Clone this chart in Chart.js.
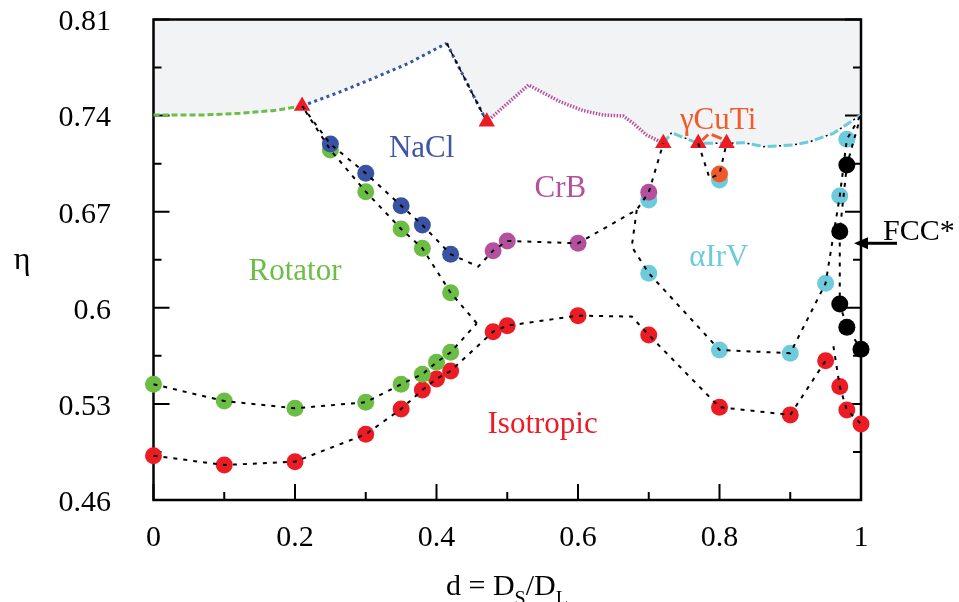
<!DOCTYPE html>
<html>
<head>
<meta charset="utf-8">
<script src="https://cdn.jsdelivr.net/npm/chart.js@4.4.1/dist/chart.umd.min.js"></script>
<style>html,body{margin:0;padding:0;background:#fff;}canvas{display:block;}</style>
</head>
<body>
<canvas id="c" width="959" height="602" style="width:959px;height:602px"></canvas>
<script>
// ---------- axis ticks ----------
const xTickValues = [0, 0.2, 0.4, 0.6, 0.8, 1];
const xTickLabels = ['0', '0.2', '0.4', '0.6', '0.8', '1'];
const xMinorTicks = [0.1, 0.3, 0.5, 0.7, 0.9];
const yTickValues = [0.46, 0.53, 0.6, 0.67, 0.74, 0.81];
const yTickLabels = ['0.46', '0.53', '0.6', '0.67', '0.74', '0.81'];
const yMinorTicks = [0.495, 0.565, 0.635, 0.705, 0.775];

// ---------- close-packing boundary (top of ordered phases) ----------
const rotBoundD = [0, 0.075, 0.122, 0.169, 0.21];
const rotBoundEta = [0.7405, 0.7405, 0.7417, 0.7436, 0.747];
const naclBoundD = [0.21, 0.26, 0.31, 0.36, 0.4144];
const naclBoundEta = [0.747, 0.7565, 0.767, 0.778, 0.7927];
const dropD = [0.4144, 0.471];
const dropEta = [0.7927, 0.7356];
const crbBoundD = [0.471, 0.53, 0.575, 0.6075, 0.636, 0.664, 0.678, 0.697, 0.7206];
const crbBoundEta = [0.7356, 0.7623, 0.750, 0.7436, 0.7404, 0.7397, 0.7344, 0.7259, 0.7198];
const irvBoundD = [0.7206, 0.7324, 0.744, 0.770, 0.810, 0.834, 0.862, 0.904, 0.928, 0.961, 1.0];
const irvBoundEta = [0.7198, 0.7276, 0.7251, 0.7198, 0.7198, 0.7203, 0.7174, 0.7186, 0.721, 0.7271, 0.7405];

// ---------- simulation points ----------
const greenD = [0, 0.1, 0.2, 0.3, 0.35, 0.38, 0.40, 0.42, 0.25, 0.30, 0.35, 0.38, 0.42];
const greenEta = [0.5443, 0.5321, 0.5268, 0.5312, 0.5443, 0.5516, 0.5603, 0.5676, 0.715, 0.6846, 0.6574, 0.6434, 0.611];
const blueD = [0.25, 0.30, 0.35, 0.38, 0.42];
const blueEta = [0.7193, 0.698, 0.6744, 0.6603, 0.639];
const magentaD = [0.48, 0.50, 0.60, 0.70];
const magentaEta = [0.6416, 0.6487, 0.647, 0.6841];
const cyanD = [0.70, 0.70, 0.80, 0.80, 0.90, 0.95, 0.97, 0.98];
const cyanEta = [0.6785, 0.6252, 0.6931, 0.5693, 0.5669, 0.6179, 0.6814, 0.7227];
const orangeD = [0.80];
const orangeEta = [0.6975];
const blackD = [0.98, 0.97, 0.97, 0.98, 1.0];
const blackEta = [0.704, 0.6555, 0.6028, 0.5858, 0.5698];
const redD = [0, 0.1, 0.2, 0.3, 0.35, 0.38, 0.40, 0.42, 0.48, 0.50, 0.60, 0.70, 0.80, 0.90, 0.95, 0.97, 0.98, 1.0];
const redEta = [0.4923, 0.4855, 0.4879, 0.5079, 0.5263, 0.5402, 0.5482, 0.554, 0.5826, 0.587, 0.5943, 0.5802, 0.5276, 0.522, 0.5615, 0.5426, 0.5256, 0.5154];
const triD = [0.21, 0.471, 0.7206, 0.770, 0.810];
const triEta = [0.747, 0.7356, 0.7198, 0.7198, 0.7198];

// ---------- phase boundary guide lines (black dashed) ----------
const l1D = [0, 0.1, 0.2, 0.3, 0.35, 0.38, 0.40, 0.42, 0.457];
const l1Eta = [0.5443, 0.5321, 0.5268, 0.5312, 0.5443, 0.5516, 0.5603, 0.5676, 0.5887];
const l2D = [0.457, 0.42, 0.38, 0.35, 0.30, 0.25, 0.21];
const l2Eta = [0.5887, 0.611, 0.6434, 0.6574, 0.6846, 0.715, 0.747];
const l3D = [0.21, 0.25, 0.30, 0.35, 0.38, 0.42, 0.459, 0.48, 0.50, 0.60, 0.683, 0.70, 0.7206];
const l3Eta = [0.747, 0.7193, 0.698, 0.6744, 0.6603, 0.639, 0.630, 0.6416, 0.6487, 0.647, 0.6713, 0.6841, 0.7198];
const l4D = [0.683, 0.676, 0.70, 0.80, 0.90, 0.95, 0.97, 0.98, 1.0];
const l4Eta = [0.6713, 0.6445, 0.6252, 0.5693, 0.5669, 0.6179, 0.6814, 0.7227, 0.7405];
const l5D = [0, 0.1, 0.2, 0.3, 0.35, 0.38, 0.40, 0.42, 0.48, 0.50, 0.60, 0.676, 0.70, 0.80, 0.90, 0.95];
const l5Eta = [0.4923, 0.4855, 0.4879, 0.5079, 0.5263, 0.5402, 0.5482, 0.554, 0.5826, 0.587, 0.5943, 0.5936, 0.5802, 0.5276, 0.522, 0.5615];
const l6D = [0.961, 0.97, 0.98, 1.0];
const l6Eta = [0.572, 0.5426, 0.5256, 0.5154];
const l7D = [1.0, 0.98, 0.97, 0.97, 0.98, 1.0];
const l7Eta = [0.7405, 0.704, 0.6555, 0.6028, 0.5858, 0.5698];
const l8D = [0.770, 0.786, 0.80, 0.81];
const l8Eta = [0.7198, 0.6943, 0.6975, 0.7198];
const gArrowLD = [0.784, 0.776];
const gArrowLEta = [0.7262, 0.7222];
const gArrowRD = [0.789, 0.803];
const gArrowREta = [0.7262, 0.7232];

// ---------- text annotations ----------
const phaseNames = ['NaCl', 'CrB', 'Rotator', 'Isotropic', '\u03B1IrV', '\u03B3CuTi'];
const phaseColors = ['#3d56a6', '#b4519e', '#6cbd45', '#ec1c24', '#6dcbdb', '#f15a29'];
const fccEta = 0.647;

const C = {green:'#6cbd45', blue:'#3853a4', magenta:'#b4519e', cyan:'#6dcbdb', red:'#ec1c24', orange:'#f05a28', black:'#000000'};
const FONT = "'Liberation Serif', 'Times New Roman', serif";

const pts = (d, e) => d.map((v, i) => ({x: v, y: e[i]}));
const line = (d, e, color, width, dash, order, offset) => ({
  data: pts(d, e), borderColor: color, borderWidth: width, borderDash: dash || [],
  borderDashOffset: offset || 0, pointRadius: 0, fill: false, tension: 0, order: order, clip: false
});
const marks = (d, e, color, order, style, r) => ({
  data: pts(d, e), showLine: false, pointRadius: r || 8.5, pointHoverRadius: r || 8.5,
  pointStyle: style || 'circle', pointBackgroundColor: color, pointBorderWidth: 0,
  pointBorderColor: color, order: order, clip: false
});

const fillD = [].concat(rotBoundD, naclBoundD.slice(1), dropD.slice(1), crbBoundD.slice(1), irvBoundD.slice(1));
const fillEta = [].concat(rotBoundEta, naclBoundEta.slice(1), dropEta.slice(1), crbBoundEta.slice(1), irvBoundEta.slice(1));

const datasets = [
  {data: pts(fillD, fillEta), fill: 'end', backgroundColor: '#f2f3f5', borderColor: 'rgba(0,0,0,0)', borderWidth: 0, pointRadius: 0, tension: 0, order: 20},
  line(rotBoundD, rotBoundEta, C.green, 3, [6, 3], 15),
  line(naclBoundD, naclBoundEta, C.blue, 3, [3, 3.5], 15),
  line(dropD, dropEta, C.blue, 3, [3, 3.5], 15),
  line(dropD, dropEta, '#000', 1.5, [5, 4], 14),
  line(crbBoundD, crbBoundEta, C.magenta, 3.5, [1.5, 1.5], 15),
  line(irvBoundD, irvBoundEta, C.cyan, 3, [9, 7], 15),
  line(irvBoundD, irvBoundEta, '#000', 1.5, [2, 14], 14, 4.5),
  marks(cyanD, cyanEta, C.cyan, 6),
  marks(greenD, greenEta, C.green, 5),
  marks(redD, redEta, C.red, 5),
  marks(blueD, blueEta, C.blue, 4),
  marks(magentaD, magentaEta, C.magenta, 4),
  marks(orangeD, orangeEta, C.orange, 3),
  marks(blackD, blackEta, C.black, 3),
  line(gArrowLD, gArrowLEta, C.orange, 3, [], 2),
  line(gArrowRD, gArrowREta, C.orange, 3, [], 2),
  marks(triD, triEta, C.red, 1, 'triangle', 9.5),
  line(l1D, l1Eta, '#000', 2, [4, 6], 0),
  line(l2D, l2Eta, '#000', 2, [4, 6], 0),
  line(l3D, l3Eta, '#000', 2, [4, 6], 0),
  line(l4D, l4Eta, '#000', 2, [4, 6], 0),
  line(l5D, l5Eta, '#000', 2, [4, 6], 0),
  line(l6D, l6Eta, '#000', 2, [4, 6], 0),
  line(l7D, l7Eta, '#000', 2, [4, 6], 0),
  line(l8D, l8Eta, '#000', 2, [4, 6], 0)
];

// text anchor positions (data coordinates of each label's centre / baseline)
const labelAnchors = [[0.379, 0.7101], [0.575, 0.6805], [0.2, 0.6203], [0.550, 0.5086], [0.799, 0.6305], [0.798, 0.7302]];

const decor = {
  id: 'decor',
  afterDatasetDraw(chart, args) {
    if (args.index !== 0) return;
    const {ctx, chartArea: a, scales: {x, y}} = chart;
    ctx.save();
    ctx.strokeStyle = '#000';
    ctx.lineWidth = 2.5;
    ctx.strokeRect(a.left, a.top, a.right - a.left, a.bottom - a.top);
    ctx.lineWidth = 2;
    ctx.beginPath();
    const xt = (v, len) => { const p = x.getPixelForValue(v); ctx.moveTo(p, a.bottom); ctx.lineTo(p, a.bottom - len); };
    const yt = (v, len) => { const p = y.getPixelForValue(v); ctx.moveTo(a.left, p); ctx.lineTo(a.left + len, p); ctx.moveTo(a.right, p); ctx.lineTo(a.right - len, p); };
    xTickValues.forEach(v => xt(v, 16));
    xMinorTicks.forEach(v => xt(v, 8));
    yTickValues.forEach(v => yt(v, 16));
    yMinorTicks.forEach(v => yt(v, 8));
    ctx.stroke();
    ctx.restore();
  },
  afterDatasetsDraw(chart) {
    const {ctx, chartArea: a, scales: {x, y}} = chart;
    ctx.save();
    ctx.textBaseline = 'alphabetic';
    ctx.font = '31px ' + FONT;
    ctx.textAlign = 'center';
    phaseNames.forEach((t, i) => {
      ctx.fillStyle = phaseColors[i];
      ctx.fillText(t, x.getPixelForValue(labelAnchors[i][0]), y.getPixelForValue(labelAnchors[i][1]));
    });
    // FCC* arrow
    const fy = y.getPixelForValue(fccEta);
    ctx.strokeStyle = '#000'; ctx.fillStyle = '#000'; ctx.lineWidth = 3;
    ctx.beginPath(); ctx.moveTo(a.right + 36, fy); ctx.lineTo(a.right + 4, fy); ctx.stroke();
    ctx.beginPath(); ctx.moveTo(a.right - 7, fy); ctx.lineTo(a.right + 7, fy - 6); ctx.lineTo(a.right + 7, fy + 6); ctx.closePath(); ctx.fill();
    ctx.font = '30px ' + FONT;
    ctx.textAlign = 'left';
    ctx.fillText('FCC*', a.right + 22, fy - 3);
    // y title
    ctx.textAlign = 'center';
    ctx.font = '32px ' + FONT;
    ctx.fillText('\u03B7', 22, 269);
    // x title with subscripts
    ctx.textAlign = 'left';
    const big = '30px ' + FONT, small = '20px ' + FONT;
    const parts = [['d = D', big, 0], ['S', small, 10], ['/D', big, 0], ['L', small, 10]];
    let tw = 0;
    parts.forEach(p => { ctx.font = p[1]; tw += ctx.measureText(p[0]).width; });
    let cx = 507 - tw / 2;
    parts.forEach(p => { ctx.font = p[1]; ctx.fillText(p[0], cx, 595 + p[2]); cx += ctx.measureText(p[0]).width; });
    ctx.restore();
  }
};

new Chart(document.getElementById('c'), {
  type: 'line',
  data: {datasets: datasets},
  options: {
    responsive: false,
    animation: false,
    devicePixelRatio: 1,
    layout: {padding: {top: 19.5, right: 98, left: 0, bottom: 0}},
    plugins: {legend: {display: false}, tooltip: {enabled: false}},
    elements: {line: {capBezierPoints: false}},
    scales: {
      x: {
        type: 'linear', min: 0, max: 1,
        grid: {display: false}, border: {display: false},
        afterBuildTicks: s => { s.ticks = xTickValues.map(v => ({value: v})); },
        afterFit: s => { s.height = 102; s.paddingLeft = 0; s.paddingRight = 0; },
        ticks: {callback: (v, i) => xTickLabels[i], font: {family: FONT, size: 30}, color: '#000', padding: 12, maxRotation: 0, autoSkip: false}
      },
      y: {
        type: 'linear', min: 0.46, max: 0.81,
        grid: {display: false}, border: {display: false},
        afterBuildTicks: s => { s.ticks = yTickValues.map(v => ({value: v})); },
        afterFit: s => { s.width = 153.5; s.paddingTop = 0; s.paddingBottom = 0; },
        ticks: {callback: (v, i) => yTickLabels[i], font: {family: FONT, size: 30}, color: '#000', padding: 34.5, labelOffset: 3, autoSkip: false}
      }
    }
  },
  plugins: [decor]
});
</script>
</body>
</html>
